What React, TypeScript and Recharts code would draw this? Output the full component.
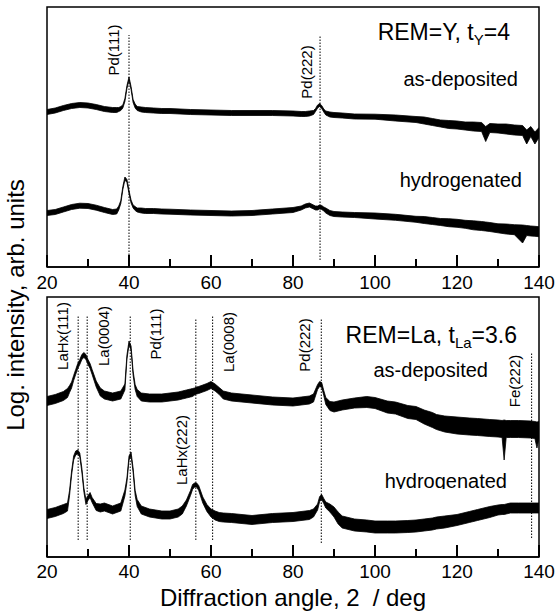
import React from "react";
import {
  Area,
  ComposedChart,
  ReferenceArea,
  ReferenceDot,
  ReferenceLine,
  XAxis,
  YAxis,
} from "recharts";

const FONT = '"Liberation Sans", Arial, Helvetica, sans-serif';

// x ticks: labelled major ticks every 20 deg, short minor ticks between
const xMajorTicks = [20, 40, 60, 80, 100, 120, 140];
const xAllTicks = [20, 30, 40, 50, 60, 70, 80, 90, 100, 110, 120, 130, 140];

// ---- top panel: REM = Y ----
const topAngles = [
  20, 22, 24, 26, 28, 30, 32, 34, 36, 37,
  37.5, 38, 38.5, 39, 39.5, 40, 40.5, 41, 41.5, 42,
  43, 44, 46, 48, 50, 55, 60, 65, 70, 75,
  80, 82, 83, 84, 85, 85.5, 86, 86.5, 87, 87.5,
  88, 89, 90, 92, 95, 100, 105, 110, 112, 114,
  116, 118, 120, 122, 124, 126, 127, 128, 130, 132,
  134, 136, 137, 138, 139, 140,
];
const topDepMid = [
  155, 156.5, 159, 161, 162, 161.5, 160, 158, 157, 157,
  157.5, 158.5, 160.5, 167, 180, 188.5, 179, 166, 161, 158.5,
  157.5, 157, 156.5, 156, 156, 155, 154.5, 154, 154, 154,
  153.5, 153, 153, 153.5, 154.5, 157, 160.5, 162, 160, 156.5,
  154, 152.5, 152, 151.5, 150.5, 150.3, 149, 147.5, 146.5, 145,
  143.5, 142.5, 142, 141, 140.5, 140, 133, 139, 138.5, 138,
  137, 136.5, 130, 135.5, 129, 134.5,
];
const topDepNoise = [
  5, 5, 5, 5, 5, 5, 5, 5, 5, 5,
  4, 4, 3, 3, 3, 3, 3, 3, 4, 4,
  5, 5, 5, 5, 5, 5, 5, 5, 5, 5,
  5, 5, 5, 5, 4, 3, 3, 3, 3, 3,
  4, 5, 5, 5, 5, 5, 6, 6, 7, 7,
  7, 8, 8, 8, 9, 9, 15, 9, 9, 10,
  10, 10, 14, 10, 12, 10,
];
const topHydMid = [
  54, 55, 57.5, 60, 61.3, 61, 59.3, 57, 55, 55.5,
  59, 65, 79, 88.5, 86, 75, 65.5, 60.5, 58.5, 57,
  56.5, 56, 56, 55.5, 55.3, 54.5, 54, 53.5, 54, 55.5,
  57, 59, 61, 62, 60, 59, 59, 60, 59.5, 58,
  56.5, 54, 53, 52.5, 52, 51, 49.7, 47.7, 47, 46,
  45, 44.3, 43.7, 42.7, 41.7, 41, 40.5, 40, 38.7, 38,
  37.3, 33, 36.5, 36, 35.7, 35.3,
];
const topHydNoise = [
  5, 5, 5, 5, 5, 5, 5, 5, 5, 5,
  4, 3, 3, 3, 3, 3, 3, 3, 4, 4,
  5, 5, 5, 5, 5, 5, 5, 5, 5, 5,
  5, 4, 4, 4, 4, 4, 4, 4, 4, 4,
  5, 5, 5, 5, 5, 6, 6, 6, 7, 7,
  7, 8, 8, 8, 9, 9, 9, 9, 9, 10,
  10, 18, 10, 10, 10, 10,
];

// ---- bottom panel: REM = La ----
const botAngles = [
  20, 22, 24, 25, 25.5, 26, 26.5, 27, 27.5, 28,
  28.5, 29, 29.5, 30, 30.5, 31, 32, 33, 34, 36,
  38, 39, 39.5, 40, 40.5, 41, 41.5, 42, 43, 45,
  48, 50, 52, 53, 54, 55, 55.5, 56, 56.5, 57,
  58, 59, 60, 61, 62, 63, 65, 70, 75, 80,
  84, 85, 86, 86.5, 87, 87.5, 88, 89, 90, 91,
  92, 95, 98, 100, 103, 105, 108, 110, 112, 114,
  115, 117, 120, 123, 125, 128, 130, 131, 131.5, 132,
  133, 135, 138, 139, 139.5, 140,
];
const botDepMid = [
  156, 158, 161, 164, 168, 172, 179, 185, 191, 195,
  200, 202, 200, 195, 191, 185, 173, 165, 162, 160,
  162, 170, 200, 214, 209, 184, 170, 164, 160, 159,
  159, 160, 161, 162, 163, 164, 164.5, 165.5, 166.5, 167,
  168.5, 170, 172, 169.5, 166, 162, 160, 158, 156, 155,
  157, 159, 170, 173, 172, 164, 156, 151, 150, 151,
  152, 154, 155, 154, 150, 149, 145, 144, 140, 137,
  135, 133, 131.5, 130.5, 130, 129, 128.5, 128, 117, 128,
  128, 128, 127.5, 127, 122, 127,
];
const botDepNoise = [
  9, 9, 9, 9, 7, 6, 5, 5, 5, 5,
  5, 5, 5, 5, 5, 5, 6, 8, 8, 8,
  8, 6, 4, 4, 4, 4, 5, 7, 8, 8,
  8, 8, 8, 8, 8, 8, 8, 7, 7, 7,
  7, 7, 7, 7, 7, 8, 8, 8, 8, 8,
  8, 8, 5, 5, 5, 5, 7, 9, 10, 10,
  10, 10, 11, 11, 12, 12, 13, 13, 14, 15,
  15, 16, 17, 17, 17, 17, 17, 17, 40, 17,
  17, 17, 17, 17, 26, 17,
];
const botHydMid = [
  43, 45, 48, 50, 64, 84, 99, 104, 105, 102,
  87, 67, 55, 59, 62, 57, 50, 49, 50, 47,
  50, 64, 77, 99, 103, 87, 64, 54, 47, 44,
  42, 42, 44, 47, 54, 64, 70, 72, 72, 69,
  57, 49, 44, 41.5, 40, 39.5, 39, 37, 39, 40,
  42, 44, 50, 58, 60, 56, 52, 49, 45, 39,
  35, 32, 31, 30, 30, 30, 30.5, 31, 32, 33,
  34, 35, 37, 40, 42, 45, 47, 47.5, 47.5, 48,
  49, 49, 49, 49, 49, 49,
];
const botHydNoise = [
  9, 9, 9, 8, 5, 4, 4, 4, 4, 4,
  4, 4, 5, 5, 5, 5, 7, 8, 8, 8,
  8, 6, 4, 4, 4, 4, 5, 7, 8, 8,
  8, 8, 8, 8, 6, 5, 5, 4, 4, 5,
  6, 7, 8, 9, 9, 9, 9, 9, 9, 9,
  9, 8, 6, 5, 5, 5, 6, 8, 10, 12,
  12, 12, 12, 12, 12, 12, 12, 12, 12, 12,
  12, 12, 11, 11, 11, 11, 10, 10, 10, 10,
  10, 10, 10, 10, 10, 10,
];

// peak markers
const topPeakNames = ["Pd(111)", "Pd(222)"];
const topPeakAngles = [40, 86.6];
const botPeakNames = ["LaHx(111)", "La(0004)", "Pd(111)", "LaHx(222)", "La(0008)", "Pd(222)", "Fe(222)"];
const botPeakAngles = [27.6, 29.8, 40.3, 56.3, 60.4, 86.9, 138.2];

// marker layout: line bottom / top and label centre in panel units, label dx in px
const topPeakLayout = [
  { from: 0, to: 232, labelY: 217, dx: -16 },
  { from: 7, to: 232, labelY: 195, dx: -14 },
];
const botPeakLayout = [
  { from: 17, to: 242, labelY: 221, dx: -16 },
  { from: 17, to: 242, labelY: 221, dx: 16 },
  { from: 17, to: 242, labelY: 223, dx: 25 },
  { from: 17, to: 239, labelY: 107, dx: -14 },
  { from: 17, to: 242, labelY: 215, dx: 16 },
  { from: 14, to: 238, labelY: 212, dx: -17 },
  { from: 19, to: 204, labelY: 176, dx: -17 },
];

const buildRows = (angles: number[], depMid: number[], depNoise: number[], hydMid: number[], hydNoise: number[]) =>
  angles.map((a, i) => ({
    angle: a,
    dep: [depMid[i] - depNoise[i] / 2, depMid[i] + depNoise[i] / 2],
    hyd: [hydMid[i] - hydNoise[i] / 2, hydMid[i] + hydNoise[i] / 2],
  }));

const topRows = buildRows(topAngles, topDepMid, topDepNoise, topHydMid, topHydNoise);
const botRows = buildRows(botAngles, botDepMid, botDepNoise, botHydMid, botHydNoise);

const TickLabel = (props: any) => {
  const { x, y, payload } = props;
  return (
    <text x={x} y={y} dy="0.71em" textAnchor="middle" fontSize={19} fontFamily={FONT} fill="#000">
      {payload.value}
    </text>
  );
};

type PanelProps = {
  rows: any[];
  height: number;
  bottom: number;
  gap: number;
  names: string[];
  angles: number[];
  layout: { from: number; to: number; labelY: number; dx: number }[];
};

const Panel = ({ rows, height, bottom, gap, names, angles, layout }: PanelProps) => (
  <ComposedChart width={557} height={height} data={rows} margin={{ top: 7, right: 18, bottom, left: 47 }}>
    <XAxis
      dataKey="angle"
      type="number"
      domain={[20, 140]}
      ticks={xMajorTicks}
      interval={0}
      allowDataOverflow
      tickLine={false}
      tickSize={0}
      tickMargin={gap}
      height={30}
      axisLine={{ stroke: "#000", strokeWidth: 1.5 }}
      tick={<TickLabel />}
    />
    <YAxis hide type="number" domain={[0, 260]} allowDataOverflow />
    <Area
      dataKey="dep"
      type="linear"
      stroke="#000"
      strokeWidth={0.8}
      fill="#000"
      fillOpacity={1}
      dot={false}
      activeDot={false}
      isAnimationActive={false}
    />
    <Area
      dataKey="hyd"
      type="linear"
      stroke="#000"
      strokeWidth={0.8}
      fill="#000"
      fillOpacity={1}
      dot={false}
      activeDot={false}
      isAnimationActive={false}
    />
    {angles.map((a, i) => (
      <ReferenceLine
        key={"l" + i}
        segment={[
          { x: a, y: layout[i].from },
          { x: a, y: layout[i].to },
        ]}
        stroke="#000"
        strokeWidth={1}
        strokeDasharray="1.5 1.5"
      />
    ))}
    {/* inward ticks on the bottom axis */}
    {xAllTicks.map((t) => (
      <ReferenceDot
        key={"k" + t}
        x={t}
        y={0}
        r={0}
        ifOverflow="visible"
        shape={(p: any) => (
          <rect
            x={p.cx - 1}
            y={p.cy - (t % 20 === 0 ? 12 : 8)}
            width={2}
            height={t % 20 === 0 ? 12 : 8}
            fill="#000"
          />
        )}
      />
    ))}
    {angles.map((a, i) => (
      <ReferenceDot
        key={"t" + i}
        x={a}
        y={layout[i].labelY}
        r={0}
        ifOverflow="visible"
        shape={(p: any) => {
          const cx = p.cx + layout[i].dx;
          return (
            <text
              x={cx}
              y={p.cy}
              transform={`rotate(-90 ${cx} ${p.cy})`}
              textAnchor="middle"
              dominantBaseline="central"
              fontSize={15}
              fontFamily={FONT}
              fill="#000"
            >
              {names[i]}
            </text>
          );
        }}
      />
    ))}
    <ReferenceArea x1={20} x2={140} y1={0} y2={260} fill="none" stroke="#000" strokeWidth={1.5} ifOverflow="visible" />
  </ComposedChart>
);

export default function App() {
  return (
    <div style={{ position: "absolute", left: 0, top: 0, width: 557, height: 614, background: "#fff", fontFamily: FONT }}>
      <div style={{ position: "absolute", left: 0, top: 0 }}>
        <Panel rows={topRows} height={300} bottom={3} gap={9} names={topPeakNames} angles={topPeakAngles} layout={topPeakLayout} />
      </div>
      <div style={{ position: "absolute", left: 0, top: 290 }}>
        <Panel rows={botRows} height={324} bottom={27} gap={8} names={botPeakNames} angles={botPeakAngles} layout={botPeakLayout} />
      </div>
      <svg
        width={557}
        height={614}
        style={{ position: "absolute", left: 0, top: 0, pointerEvents: "none" }}
        fontFamily={FONT}
        fill="#000"
      >
        <defs>
          <clipPath id="clipHyd">
            <rect x={0} y={0} width={557} height={489} />
          </clipPath>
        </defs>
        <text transform="rotate(-90)" x={-305} y={24} textAnchor="middle" fontSize={24}>
          Log. intensity, arb. units
        </text>
        <text x={510} y={40} textAnchor="end" fontSize={23}>
          REM=Y, t<tspan dy={5} fontSize={15}>Y</tspan>
          <tspan dy={-5}>=4</tspan>
        </text>
        <text x={518} y={86} textAnchor="end" fontSize={20}>as-deposited</text>
        <text x={522} y={187} textAnchor="end" fontSize={20}>hydrogenated</text>
        <text x={517} y={343} textAnchor="end" fontSize={23}>
          REM=La, t<tspan dy={5} fontSize={15}>La</tspan>
          <tspan dy={-5}>=3.6</tspan>
        </text>
        <text x={488} y={377} textAnchor="end" fontSize={20}>as-deposited</text>
        <text x={507} y={488} textAnchor="end" fontSize={20} clipPath="url(#clipHyd)">hydrogenated</text>
        <text x={293} y={606} textAnchor="middle" fontSize={24}>
          Diffraction angle, 2<tspan dx={13}>/ deg</tspan>
        </text>
      </svg>
    </div>
  );
}
